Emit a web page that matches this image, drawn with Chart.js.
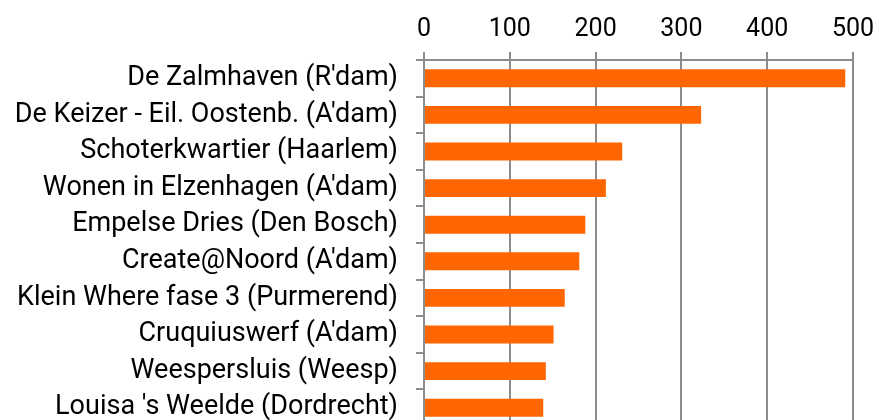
<!DOCTYPE html>
<html>
<head>
<meta charset="utf-8">
<script src="https://cdn.jsdelivr.net/npm/chart.js@4/dist/chart.umd.min.js"></script>
<style>
html,body{margin:0;padding:0;background:#fff;overflow:hidden;}
#wrap{width:879px;height:420px;overflow:hidden;}
canvas{display:block;}
</style>
</head>
<body>
<div id="wrap"><canvas id="c" width="879" height="426"></canvas></div>
<script>
const categories = [
  "De Zalmhaven (R'dam)",
  "De Keizer - Eil. Oostenb. (A'dam)",
  "Schoterkwartier (Haarlem)",
  "Wonen in Elzenhagen (A'dam)",
  "Empelse Dries (Den Bosch)",
  "Create@Noord (A'dam)",
  "Klein Where fase 3 (Purmerend)",
  "Cruquiuswerf (A'dam)",
  "Weespersluis (Weesp)",
  "Louisa 's Weelde (Dordrecht)"
];
const values = [491, 323, 231, 212, 188, 181, 164, 151, 142, 139];
const xTicks = [0, 100, 200, 300, 400, 500];

const gridColor = '#8c8c8c';
new Chart(document.getElementById('c'), {
  type: 'bar',
  data: {
    labels: categories,
    datasets: [{
      data: values,
      backgroundColor: '#ff6600',
      borderWidth: 0,
      categoryPercentage: 1.0,
      barPercentage: 0.49
    }]
  },
  options: {
    indexAxis: 'y',
    responsive: false,
    animation: false,
    devicePixelRatio: 1,
    layout: { padding: { left: 0, right: 26, top: 0, bottom: 0 } },
    plugins: { legend: { display: false }, tooltip: { enabled: false } },
    scales: {
      x: {
        position: 'top',
        min: 0, max: 500,
        afterBuildTicks: (s) => { s.ticks = xTicks.map(v => ({ value: v })); },
        afterFit: (s) => { s.height = 60; s.paddingLeft = 0; s.paddingRight = 0; },
        ticks: { font: { family: 'Roboto', size: 25 }, color: '#000', padding: 7, maxRotation: 0 },
        grid: { color: gridColor, lineWidth: 2, tickLength: 8, drawOnChartArea: true },
        border: { color: gridColor, width: 2 }
      },
      y: {
        afterFit: (s) => { s.width = 424; s.paddingTop = 0; s.paddingBottom = 0; },
        ticks: { font: { family: 'Roboto', size: 27 }, color: '#000', padding: 18, autoSkip: false },
        grid: { color: gridColor, lineWidth: 2, tickLength: 8, drawOnChartArea: false, offset: true },
        border: { color: gridColor, width: 2 }
      }
    }
  }
});
</script>
</body>
</html>
